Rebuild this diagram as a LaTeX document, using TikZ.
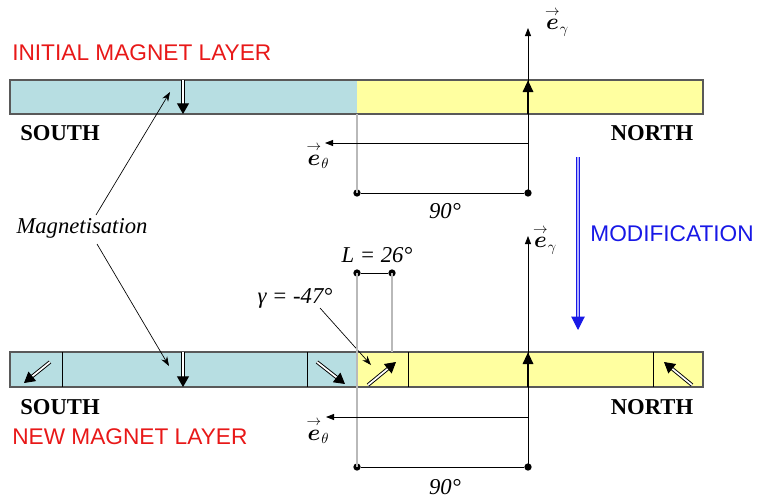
\documentclass[tikz,border=0pt]{standalone}
\usepackage{amsmath,amssymb}
\usepackage{fontspec}
\setmainfont{Liberation Serif}
\newfontfamily\arialfont{Liberation Sans}
\usetikzlibrary{arrows.meta,positioning,calc}
\definecolor{southcyan}{RGB}{183,222,226}
\definecolor{northyellow}{RGB}{255,255,160}
\definecolor{layerred}{RGB}{232,24,24}
\definecolor{modblue}{RGB}{24,24,230}
\newcommand{\unitvec}[1]{$\overset{\rightarrow}{\boldsymbol{e}}_{#1}$}

\begin{document}
\begin{tikzpicture}[x=0.75pt,y=-0.75pt,>=Stealth,
  every node/.style={font=\fontsize{17}{20}\selectfont},
  bar/.style={draw=black!65,line width=0.8pt},
  cellline/.style={draw=black,line width=0.6pt},
  magarrow/.style={line width=0.7pt,double=white,double distance=1.3pt,
    -{Triangle[length=8pt,width=9pt]}},
  thickarrow/.style={line width=2.2pt,-{Triangle[length=9pt,width=7.5pt]}},
  axis/.style={line width=0.6pt,-{Triangle[length=6pt,width=4.5pt]}},
  guide/.style={gray!55,line width=0.8pt},
  dot/.style={circle,fill,inner sep=0pt,minimum size=5.5pt},
  pointer/.style={line width=0.5pt,-{Stealth[length=7pt,width=5pt]}},
  vec/.style={font=\fontsize{16}{18}\selectfont,inner sep=0pt},
  layer/.style={font=\arialfont\fontsize{17}{20}\selectfont,
    text=layerred,anchor=west,inner sep=0pt},
  pole/.style={font=\bfseries\fontsize{17}{20}\selectfont,inner sep=0pt},
  angle/.style={font=\itshape\fontsize{17}{20}\selectfont,inner sep=0pt}]
  \useasboundingbox (0,0) rectangle (757,500);

  % initial magnet layer
  \fill[southcyan] (10,80) rectangle (357,114);
  \fill[northyellow] (357,80) rectangle (703,114);
  \draw[bar] (10,80) rectangle (703,114);
  \node[layer] (initial) at (12,53) {INITIAL MAGNET LAYER};
  \node[pole] (south1) at (60,133) {SOUTH};
  \node[pole] (north1) at (652,133) {NORTH};

  \coordinate (m1t) at (183,80);  \coordinate (m1b) at (183,114);
  \draw[magarrow] (m1t) -- (m1b);
  \coordinate (n1b) at (528,114); \coordinate (n1t) at (528,80);
  \draw[thickarrow] (n1b) -- (n1t);

  \node[dot] (a1) at (357,193) {};
  \node[dot] (b1) at (528,193) {};
  \draw[guide] (357,114) -- (a1.center);
  \coordinate (er1) at (528,28);
  \draw[axis] (b1.center) -- (er1);
  \draw[line width=0.6pt] (a1) -- (b1);
  \node[angle] (deg1) at (445,211) {90°};
  \coordinate (et1s) at (528,143); \coordinate (et1e) at (325,143);
  \draw[axis] (et1s) -- (et1e);
  \node[vec] (erlab1) at (557,22) {\unitvec{\gamma}};
  \node[vec] (etlab1) at (318,156) {\unitvec{\theta}};

  % modification
  \coordinate (mods) at (578,157); \coordinate (mode) at (578,330);
  \draw[modblue,line width=0.8pt,double=blue!30,double distance=1.6pt,
    -{Triangle[length=10pt,width=10pt]}] (mods) -- (mode);
  \node[font=\arialfont\fontsize{17}{20}\selectfont,text=modblue] (modif) at (672,234) {MODIFICATION};

  % new magnet layer
  \fill[southcyan] (10,352) rectangle (357,387);
  \fill[northyellow] (357,352) rectangle (703,387);
  \draw[bar] (10,352) rectangle (703,387);
  \foreach \xc in {62,307,408,653}
    \draw[cellline] (\xc,352) -- (\xc,387);
  \node[pole] (south2) at (60,407) {SOUTH};
  \node[pole] (north2) at (652,407) {NORTH};
  \node[layer] (new) at (12,437) {NEW MAGNET LAYER};

  \draw[magarrow] (50,362) -- (24,383);
  \draw[magarrow] (183,352) -- (183,387);
  \draw[magarrow] (317,362) -- (345,384);
  \draw[magarrow] (368,385) -- (396,362);
  \draw[magarrow] (692,385) -- (664,362);
  \coordinate (n2b) at (528,387); \coordinate (n2t) at (528,352);
  \draw[thickarrow] (n2b) -- (n2t);

  % magnetisation pointers
  \node[font=\itshape\fontsize{17}{20}\selectfont] (mag) at (82,228) {Magnetisation};
  \coordinate (p1) at (170,92); \coordinate (p2) at (169,366);
  \draw[pointer] (96,215) -- (p1);
  \draw[pointer] (97,244) -- (p2);

  % cell width
  \node[dot] (l1) at (357,273) {};
  \node[dot] (l2) at (392,273) {};
  \draw[line width=0.6pt] (l1) -- (l2);
  \draw[guide] (l2.center) -- (392,352);
  \node[angle] (llab) at (377,255) {L = 26°};
  \node[angle] (glab) at (295,298) {γ = -47°};
  \coordinate (gtip) at (371,365);
  \draw[pointer] (320,308) -- (gtip);

  \node[dot] (a2) at (357,467) {};
  \node[dot] (b2) at (528,467) {};
  \draw[guide] (l1.center) -- (a2.center);
  \coordinate (er2) at (528,236);
  \draw[axis] (b2.center) -- (er2);
  \draw[line width=0.6pt] (a2) -- (b2);
  \node[angle] (deg2) at (445,487) {90°};
  \coordinate (et2s) at (528,417); \coordinate (et2e) at (326,417);
  \draw[axis] (et2s) -- (et2e);
  \node[vec] (erlab2) at (545,240) {\unitvec{\gamma}};
  \node[vec] (etlab2) at (318,431) {\unitvec{\theta}};
\end{tikzpicture}
\end{document}
